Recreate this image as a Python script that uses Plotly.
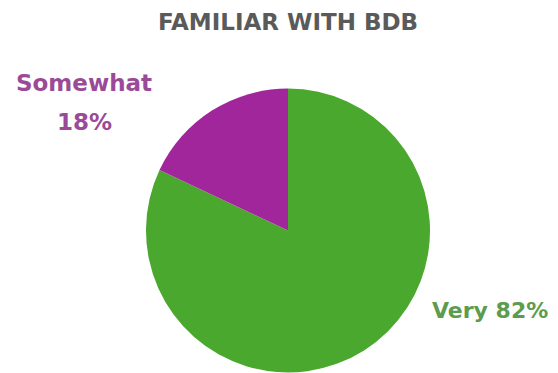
import plotly.graph_objects as go

title = "FAMILIAR WITH BDB"
labels = ["Very", "Somewhat"]
values = [82, 18]
slice_colors = ["#4ba82e", "#a1259b"]
text_colors = ["#5c9c4c", "#9a4a98"]

# page has an 8px body margin; figure sized to fit the 558x373 window
W, H = 550, 365
OFF = 8


def px(x):
    return (x - OFF) / W


def py(y):
    return 1 - (y - OFF) / H


fig = go.Figure()
fig.add_trace(go.Pie(
    labels=labels, values=values, sort=False, direction="clockwise",
    rotation=0, marker=dict(colors=slice_colors, line=dict(width=0)),
    textinfo="none", hoverinfo="label+percent", showlegend=False,
    domain=dict(x=[px(146), px(430)], y=[0, py(88)]),
))

font = "DejaVu Sans, Arial, sans-serif"
common = dict(xref="paper", yref="paper", showarrow=False,
              xanchor="center", yanchor="middle")
fig.add_annotation(text="<b>%s</b>" % title, x=px(288), y=py(22),
                   font=dict(family=font, size=23, color="#5a5a5a"), **common)
fig.add_annotation(text="<b>%s</b>" % labels[1], x=px(84), y=py(83),
                   font=dict(family=font, size=23, color=text_colors[1]), **common)
fig.add_annotation(text="<b>%d%%</b>" % values[1], x=px(84), y=py(122),
                   font=dict(family=font, size=23, color=text_colors[1]), **common)
fig.add_annotation(text="<b>%s %d%%</b>" % (labels[0], values[0]),
                   x=px(490), y=py(310),
                   font=dict(family=font, size=22, color=text_colors[0]), **common)

fig.update_layout(width=W, height=H, margin=dict(l=0, r=0, t=0, b=0),
                  paper_bgcolor="white", plot_bgcolor="white")
fig.write_html("out.html")
